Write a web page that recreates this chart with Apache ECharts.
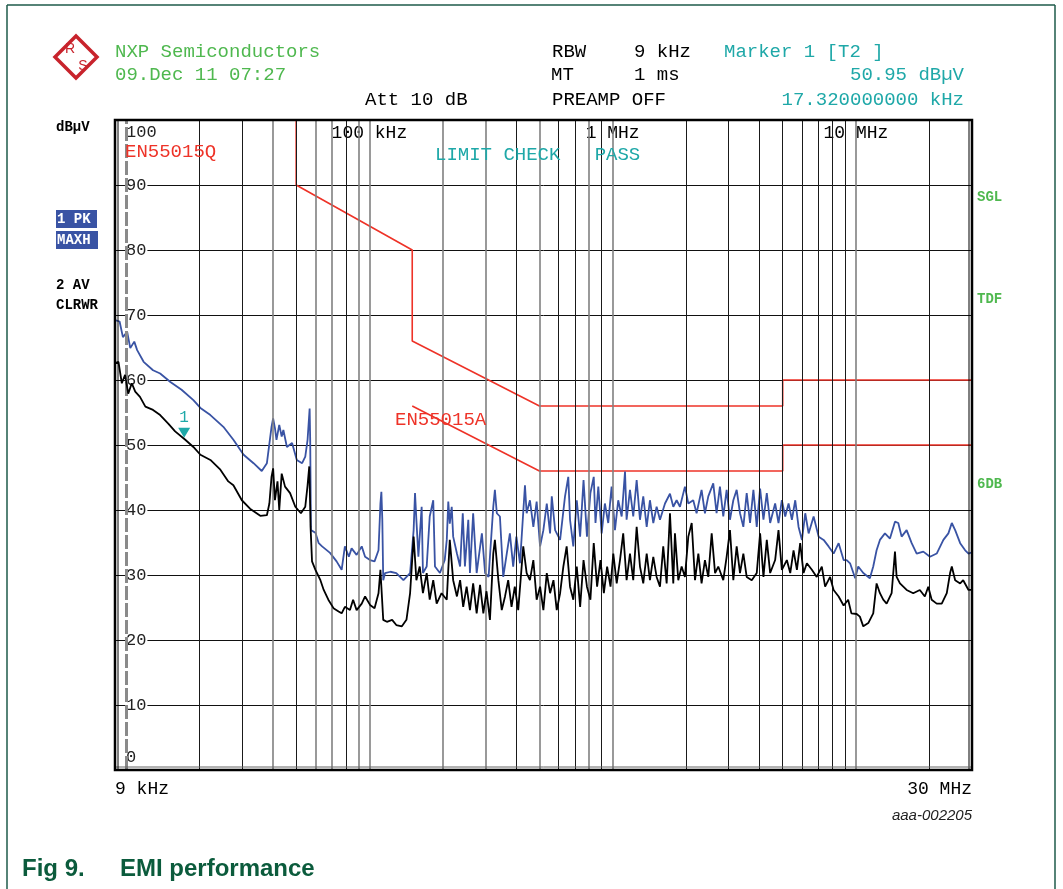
<!DOCTYPE html>
<html><head><meta charset="utf-8">
<script src="https://cdn.jsdelivr.net/npm/echarts@6/dist/echarts.min.js"></script>
<style>html,body{margin:0;padding:0;background:#fff}#c{width:1063px;height:889px}</style>
</head><body><div id="c"></div><script>
// ---- axis / tick labels ----
const bottomTickLabels = [[9, '9 kHz'], [30000, '30 MHz']];          // frequency in kHz
const topTickLabels = [[100, '100 kHz'], [1000, '1 MHz'], [10000, '10 MHz']];
const levelMin = 0, levelMax = 100, levelStep = 10;                  // dBµV
// ---- frequency grid lines (kHz) ----
const gridFreqBlack = [20, 30, 50, 80, 400, 600, 700, 900, 2000, 3000, 4000, 5000, 6000, 7000, 8000, 9000, 20000];
const gridFreqGray = [40, 60, 70, 90, 100, 200, 300, 500, 800, 1000, 10000];
const gridFreqDashed = [10];
// ---- limit lines [kHz, dBµV] ----
const limitQuasiPeak = [[50,110],[50,90],[150,80],[150,66],[500,56],[5000,56],[5000,60],[30000,60]];
const limitAverage = [[150,56],[500,46],[5000,46],[5000,50],[30000,50]];
// ---- marker ----
const marker1 = [17.32, 50.95];
// ---- trace 1: PK MAXH [kHz, dBµV] ----
const peakTrace = [[9.0,69.2],[9.4,69.0],[9.7,66.6],[10.1,67.4],[10.4,64.9],[10.8,65.9],[11.1,64.6],[11.8,62.8],[12.9,61.5],[13.8,61.0],[15.2,59.7],[16.9,58.5],[18.9,56.9],[20.2,55.7],[22.2,54.6],[25.1,52.8],[27.6,50.8],[30.4,48.5],[33.4,47.2],[36.1,46.0],[37.9,47.2],[39.6,52.8],[40.2,54.1],[40.9,52.6],[41.5,50.8],[42.6,53.1],[43.6,51.3],[44.3,52.3],[45.8,49.7],[48.1,50.3],[50.3,47.7],[52.9,47.2],[54.5,48.2],[55.7,50.8],[56.8,55.6],[57.1,50.8],[57.5,36.9],[60.0,36.5],[61.9,34.9],[63.9,34.4],[64.9,34.6],[68.9,33.4],[73.3,32.1],[76.9,30.8],[79.3,34.4],[82.3,32.8],[84.5,34.1],[88.6,33.1],[93,34.4],[96,32.8],[100.6,32.3],[105,32.1],[109,33.8],[111,41.0],[112,42.8],[113,38.5],[114,29.2],[116,30.3],[122,30.5],[129,30.3],[138,29.2],[147,30.3],[152,36.9],[154,42.6],[156,38.5],[159,32.8],[164,40.5],[166,30.3],[172,31.3],[177,39.0],[183,41.5],[186,31.3],[195,30.3],[204,32.3],[208,35.4],[211,41.3],[214,37.9],[218,40.5],[221,35.9],[229,33.3],[236,31.3],[242,39.5],[247,31.3],[255,38.5],[259,30.3],[267,39.5],[276,30.3],[290,36.4],[299,30.3],[309,29.7],[323,40.5],[328,43.1],[334,39.5],[344,39.0],[355,29.7],[367,33.3],[378,36.4],[390,31.3],[402,35.9],[416,31.8],[436,43.8],[443,39.5],[457,41.5],[472,37.4],[487,41.3],[503,34.4],[519,36.9],[536,41.0],[553,36.4],[562,42.1],[580,36.9],[608,35.4],[637,42.1],[657,45.1],[668,38.5],[689,34.4],[712,41.5],[735,35.9],[759,44.6],[784,35.9],[810,42.6],[836,45.1],[850,38.0],[873,43.6],[901,36.4],[929,41.0],[959,38.0],[990,43.6],[1022,36.9],[1054,41.5],[1089,39.0],[1124,45.9],[1141,38.5],[1178,43.1],[1215,39.0],[1255,44.6],[1295,38.5],[1336,42.1],[1380,37.4],[1423,41.5],[1469,38.0],[1516,40.5],[1565,38.5],[1641,41.0],[1720,42.5],[1775,40.5],[1832,41.5],[1891,40.5],[1982,43.6],[2046,41.0],[2144,41.5],[2213,39.5],[2320,43.1],[2395,39.5],[2472,42.1],[2591,44.1],[2674,39.5],[2760,43.6],[2849,39.0],[2941,43.1],[3035,38.5],[3133,41.5],[3234,43.1],[3338,39.5],[3445,37.4],[3556,42.6],[3671,38.0],[3789,43.1],[3911,37.4],[4037,43.3],[4167,38.5],[4301,42.6],[4440,38.0],[4655,41.0],[4805,38.0],[4960,41.5],[5120,39.0],[5285,41.0],[5455,38.5],[5630,41.5],[5810,37.4],[6000,35.4],[6190,39.5],[6390,36.4],[6700,39.0],[7025,35.9],[7365,35.4],[7720,34.4],[8095,33.3],[8490,34.9],[8900,32.3],[9160,32.3],[9460,31.8],[9930,29.5],[10220,31.3],[10720,30.3],[11410,29.5],[11780,31.3],[12160,33.8],[12550,35.4],[13160,36.4],[13800,35.6],[14470,38.2],[14930,38.0],[15410,35.9],[16160,36.9],[16950,34.9],[17770,33.3],[18920,33.6],[20160,32.8],[21480,33.3],[22880,35.4],[23990,36.4],[24780,38.0],[25580,36.9],[26820,34.9],[28120,33.8],[29030,33.3],[30000,33.5]];
// ---- trace 2: AV CLRWR [kHz, dBµV] ----
const avgTrace = [[9.0,62.6],[9.3,62.8],[9.6,59.5],[9.9,60.8],[10.2,57.9],[10.55,59.5],[10.9,58.2],[11.4,57.4],[12.0,55.9],[12.9,55.4],[13.8,54.6],[14.9,53.3],[15.9,52.1],[17.5,50.8],[18.9,49.7],[20.2,48.5],[22.2,47.7],[24.4,46.2],[26.3,44.4],[27.6,43.8],[29.9,41.5],[32.3,40.2],[35.6,39.1],[37.9,39.2],[38.8,41.0],[39.6,45.1],[40.2,46.4],[40.9,41.5],[41.9,44.4],[42.6,40.0],[43.6,45.6],[45.0,43.6],[47.2,42.6],[49.6,40.5],[52.3,39.5],[54.5,40.5],[55.7,43.8],[56.6,46.7],[57.1,40.5],[57.3,37.4],[58.1,32.1],[60.0,30.8],[62.9,29.2],[64.9,27.7],[67.8,26.2],[71.2,24.9],[74.7,24.4],[76.9,24.1],[79.3,25.1],[83.2,24.6],[85.7,26.2],[88.6,24.6],[93,25.6],[96,26.7],[100.6,25.4],[105,24.9],[109,27.2],[111,30.8],[112,28.2],[114,23.1],[118,22.8],[124,23.1],[129,22.3],[136,22.1],[142,23.1],[147,27.2],[152,35.9],[156,29.2],[161,31.3],[166,27.2],[172,30.3],[177,26.2],[183,29.2],[189,25.6],[198,27.2],[208,26.2],[214,35.4],[221,29.2],[229,26.7],[236,29.2],[243,25.1],[251,28.2],[259,24.6],[267,28.7],[276,24.1],[285,28.5],[294,24.1],[303,27.5],[313,23.1],[323,33.3],[328,35.4],[339,29.2],[350,24.6],[361,26.7],[372,29.2],[384,25.1],[396,28.2],[409,24.6],[429,34.4],[443,30.3],[457,29.2],[472,32.3],[487,26.2],[503,28.2],[519,24.6],[536,30.3],[553,27.2],[571,29.2],[589,24.6],[608,27.2],[627,31.3],[647,34.4],[668,28.2],[689,26.2],[712,31.3],[735,25.1],[759,32.3],[784,28.2],[810,26.2],[836,34.9],[863,28.2],[891,32.3],[920,27.2],[949,31.3],[980,28.2],[1006,33.3],[1039,28.7],[1072,32.3],[1105,36.4],[1141,29.2],[1178,33.3],[1215,29.2],[1255,37.4],[1295,31.3],[1336,28.7],[1380,33.3],[1423,29.2],[1469,32.8],[1516,29.7],[1565,28.2],[1614,34.4],[1667,28.7],[1720,39.5],[1775,28.7],[1803,36.4],[1861,29.2],[1921,31.3],[1982,29.7],[2046,35.9],[2113,38.0],[2180,29.2],[2250,33.3],[2320,28.7],[2395,32.3],[2472,29.7],[2553,36.4],[2636,30.3],[2717,31.3],[2849,29.2],[2941,32.8],[3035,36.9],[3133,29.2],[3234,34.4],[3338,30.3],[3445,33.3],[3556,29.7],[3730,29.2],[3911,30.3],[4037,36.4],[4167,29.7],[4301,35.4],[4440,30.3],[4655,32.3],[4805,36.9],[4960,30.8],[5200,32.3],[5370,30.3],[5540,33.8],[5720,30.8],[5900,34.9],[6090,30.3],[6285,31.8],[6590,30.8],[6900,29.7],[7240,31.3],[7470,28.2],[7830,29.7],[8095,27.7],[8490,26.7],[8900,25.3],[9290,26.2],[9580,24.1],[10070,24.0],[10380,23.6],[10720,22.1],[10890,21.8],[11240,22.6],[11410,22.3],[11780,24.1],[12160,28.7],[12550,27.2],[12950,26.2],[13370,25.6],[14020,27.2],[14470,33.6],[14700,29.7],[15170,28.7],[16160,27.7],[17200,27.2],[18310,27.7],[19200,26.7],[19830,28.2],[20480,26.2],[21480,25.6],[22530,25.6],[23630,27.2],[24380,30.3],[24780,31.3],[25580,29.2],[26820,28.7],[27600,29.2],[29030,27.7],[30000,27.7]];

const MONO = "'Liberation Mono','Courier New',monospace";
const SANS = "'Liberation Sans',Arial,sans-serif";
const GREEN = '#4fb84f', TEAL = '#1fa8a8', RED = '#ee3328', BLUE = '#3953a4';
const PLOT = {x: 115, y: 120, w: 857, h: 650};

function findLabel(list, v) {
  for (const [t, s] of list) if (Math.abs(v - t) / t < 0.01) return s;
  return null;
}
function txt(text, x, y, o) {
  return Object.assign({type: 'text', x: x, y: y, z: 60, silent: true,
    style: Object.assign({text: text, fill: '#000', fontFamily: MONO, fontSize: 19, align: 'left', verticalAlign: 'middle'}, o || {})});
}
function ln(x1, y1, x2, y2, stroke, w) {
  return {type: 'line', z: 55, silent: true, shape: {x1, y1, x2, y2}, style: {stroke: stroke, lineWidth: w}};
}

const chart = echarts.init(document.getElementById('c'), null, {renderer: 'canvas'});

const vline = (vals, color, width, type) => ({
  silent: true, symbol: ['none', 'none'], label: {show: false}, animation: false,
  lineStyle: {color: color, width: width, type: type || 'solid'},
  emphasis: {disabled: true},
  data: vals.map(v => ({xAxis: v}))
});

const baseX = {type: 'log', logBase: 10, min: 9, max: 30000, gridIndex: 0,
  axisLine: {show: false}, axisTick: {show: false}, splitLine: {show: false}};
const baseY = {type: 'value', min: levelMin, max: levelMax, interval: levelStep, gridIndex: 0, position: 'left',
  axisLine: {show: false}, axisTick: {show: false}};

const graphic = [
  // outer frame
  ln(7, 5, 7, 889, '#1e5a4a', 1.5), ln(7, 5, 1055, 5, '#1e5a4a', 1.5), ln(1055, 5, 1055, 889, '#1e5a4a', 1.5),
  // R&S logo
  {type: 'polygon', z: 60, silent: true, shape: {points: [[76,36],[97,57],[76,78],[55,57]]}, style: {fill: '#fff', stroke: '#c8232c', lineWidth: 3.5}},
  ln(86, 46, 65, 67, '#c8232c', 2), ln(89, 49, 68, 70, '#c8232c', 2),
  txt('R', 70, 49, {fill: '#c8232c', fontSize: 14, fontFamily: SANS, align: 'center'}),
  txt('S', 83, 66, {fill: '#c8232c', fontSize: 14, fontFamily: SANS, align: 'center'}),
  // header
  txt('NXP Semiconductors', 115, 52, {fill: GREEN}),
  txt('09.Dec 11 07:27', 115, 75, {fill: GREEN}),
  txt('Att 10 dB', 365, 100),
  txt('RBW', 552, 52), txt('9 kHz', 634, 52), txt('Marker 1 [T2 ]', 724, 52, {fill: TEAL}),
  txt('MT', 551, 75), txt('1 ms', 634, 75), txt('50.95 dBµV', 964, 75, {fill: TEAL, align: 'right'}),
  txt('PREAMP OFF', 552, 100), txt('17.320000000 kHz', 964, 100, {fill: TEAL, align: 'right'}),
  // left side labels
  txt('dBµV', 56, 127, {fontSize: 14, fontWeight: 'bold'}),
  {type: 'rect', z: 55, silent: true, shape: {x: 56, y: 210, width: 41, height: 18}, style: {fill: BLUE}},
  {type: 'rect', z: 55, silent: true, shape: {x: 56, y: 231, width: 42, height: 18}, style: {fill: BLUE}},
  txt('1 PK', 57, 219, {fontSize: 14, fontWeight: 'bold', fill: '#fff'}),
  txt('MAXH', 57, 240, {fontSize: 14, fontWeight: 'bold', fill: '#fff'}),
  txt('2 AV', 56, 285, {fontSize: 14, fontWeight: 'bold'}),
  txt('CLRWR', 56, 305, {fontSize: 14, fontWeight: 'bold'}),
  // right side labels
  txt('SGL', 977, 197, {fontSize: 14, fontWeight: 'bold', fill: GREEN}),
  txt('TDF', 977, 299, {fontSize: 14, fontWeight: 'bold', fill: GREEN}),
  txt('6DB', 977, 484, {fontSize: 14, fontWeight: 'bold', fill: GREEN}),
  // in-plot texts
  txt('EN55015Q', 125, 152, {fill: RED}),
  txt('LIMIT CHECK   PASS', 435, 155, {fill: TEAL}),
  txt('EN55015A', 395, 420, {fill: RED}),
  // plot border
  {type: 'rect', z: 58, silent: true, shape: {x: PLOT.x, y: PLOT.y, width: PLOT.w, height: PLOT.h}, style: {fill: 'none', stroke: '#000', lineWidth: 2.5}},
  ln(969, 120, 969, 770, '#000', 1), ln(115, 767, 972, 767, '#666', 1), ln(118, 120, 118, 770, '#000', 1),
  // footer
  txt('aaa-002205', 972, 816, {fontFamily: SANS, fontStyle: 'italic', fontSize: 15, fill: '#222', align: 'right'}),
  txt('Fig 9.', 22, 869, {fontFamily: SANS, fontWeight: 'bold', fontSize: 24, fill: '#0b5b3c'}),
  txt('EMI performance', 120, 869, {fontFamily: SANS, fontWeight: 'bold', fontSize: 24, fill: '#0b5b3c'})
];

const option = {
  animation: false,
  backgroundColor: '#fff',
  grid: {left: PLOT.x, top: PLOT.y, width: PLOT.w, height: PLOT.h, containLabel: false},
  xAxis: [
    Object.assign({}, baseX, {position: 'bottom',
      axisLabel: {margin: 10, align: 'left', fontFamily: MONO, fontSize: 18, color: '#000',
        formatter: v => (findLabel(bottomTickLabels.slice(0, 1), v) || '')}}),
    Object.assign({}, baseX, {position: 'bottom',
      axisLabel: {margin: 10, align: 'right', fontFamily: MONO, fontSize: 18, color: '#000',
        formatter: v => (findLabel(bottomTickLabels.slice(1), v) || '')}}),
    Object.assign({}, baseX, {position: 'top',
      axisLabel: {inside: true, margin: 3, fontFamily: MONO, fontSize: 18, color: '#000',
        formatter: v => { const s = findLabel(topTickLabels, v); return s ? '{b|' + s + '}' : ''; },
        rich: {b: {backgroundColor: '#fff', fontFamily: MONO, fontSize: 18, color: '#000', padding: [1, 1]}}}})
  ],
  yAxis: [
    Object.assign({}, baseY, {
      splitLine: {show: true, lineStyle: {color: '#111', width: 1}},
      axisLabel: {inside: true, margin: 10, fontFamily: MONO, fontSize: 17, color: '#222',
        formatter: v => (v > levelMin && v < levelMax) ? '{b|' + v + '}' : '',
        rich: {b: {backgroundColor: '#fff', fontFamily: MONO, fontSize: 17, color: '#222', padding: [1, 1]}}}}),
    Object.assign({}, baseY, {splitLine: {show: false},
      axisLabel: {inside: true, margin: 10, verticalAlign: 'top', fontFamily: MONO, fontSize: 17, color: '#222',
        formatter: v => v === levelMax ? '{b|' + v + '}' : '',
        rich: {b: {backgroundColor: '#fff', fontFamily: MONO, fontSize: 17, color: '#222', padding: [4, 1, 0, 1]}}}}),
    Object.assign({}, baseY, {splitLine: {show: false},
      axisLabel: {inside: true, margin: 10, verticalAlign: 'bottom', fontFamily: MONO, fontSize: 17, color: '#222',
        formatter: v => v === levelMin ? '{b|' + v + '}' : '',
        rich: {b: {backgroundColor: '#fff', fontFamily: MONO, fontSize: 17, color: '#222', padding: [0, 1, 4, 1]}}}})
  ],
  graphic: graphic,
  series: [
    {name: 'gridGray', type: 'line', xAxisIndex: 0, yAxisIndex: 0, data: [], z: 1, silent: true,
      markLine: vline(gridFreqGray, '#808080', 1.6)},
    {name: 'gridDashed', type: 'line', xAxisIndex: 0, yAxisIndex: 0, data: [], z: 1, silent: true,
      markLine: vline(gridFreqDashed, '#8a8a8a', 3, [14, 3])},
    {name: 'gridBlack', type: 'line', xAxisIndex: 0, yAxisIndex: 0, data: [], z: 1, silent: true,
      markLine: vline(gridFreqBlack, '#1a1a1a', 1)},
    {name: 'EN55015Q', type: 'line', xAxisIndex: 0, yAxisIndex: 0, data: limitQuasiPeak, showSymbol: false, clip: true, z: 3,
      lineStyle: {color: RED, width: 1.6}, silent: true},
    {name: 'EN55015A', type: 'line', xAxisIndex: 0, yAxisIndex: 0, data: limitAverage, showSymbol: false, clip: true, z: 3,
      lineStyle: {color: RED, width: 1.6}, silent: true},
    {name: '1 PK MAXH', type: 'line', xAxisIndex: 0, yAxisIndex: 0, data: peakTrace, showSymbol: false, z: 4,
      lineStyle: {color: BLUE, width: 1.8}, silent: true},
    {name: '2 AV CLRWR', type: 'line', xAxisIndex: 0, yAxisIndex: 0, data: avgTrace, showSymbol: false, z: 5,
      lineStyle: {color: '#000', width: 1.8}, silent: true,
      markPoint: {silent: true, animation: false, data: [{coord: marker1, symbol: 'triangle', symbolRotate: 180,
        symbolSize: [12, 10], symbolOffset: [0, -6], itemStyle: {color: TEAL},
        label: {show: true, position: 'top', distance: 2, formatter: '1', color: TEAL, fontFamily: MONO, fontSize: 16}}]}}
  ]
};
chart.setOption(option);
</script></body></html>
